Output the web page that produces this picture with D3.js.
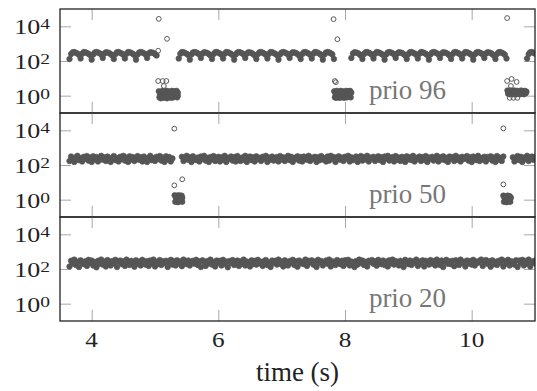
<!DOCTYPE html>
<html><head><meta charset="utf-8">
<script src="https://cdn.jsdelivr.net/npm/d3@7"></script>
<style>body{margin:0;background:#fff}</style>
</head><body>
<script>
// ---------- data ----------
const xDomain = [3.5, 11];
const yDomain = [0.1, 100000];
const xTicks = [4, 6, 8, 10];
const yTickExp = [0, 2, 4];
const panelLabels = ["prio 96", "prio 50", "prio 20"];
const xLabel = "time (s)";
const bandStart = 3.65, bandStep = 0.025;   // sampling grid of the dense band (s)

const band96 = [
130,250,320,330,300,270,230, 140,260,330,320,290,260,220, 120,240,310,330,310,280,240, 150,270,320,310,290,250,210,
130,250,320,330,300,270,230, 140,260,330,320,290,260,220, 120,240,310,330,310,280,240, 150,270,320,310,290,250,210,
null,null,null,null,null,null,null,null,null,null,null,null,null,
140,260,330,320,290,260,220, 120,240,310,330,310,280,240, 150,270,320,310,290,250,210, 130,250,320,330,300,270,230,
140,260,330,320,290,260,220, 120,240,310,330,310,280,240, 150,270,320,310,290,250,210, 130,250,320,330,300,270,230,
140,260,330,320,290,260,220, 120,240,310,330,310,280,240, 150,270,320,310,290,250,210, 130,250,320,330,300,270,230,
140,260,330,320,290,260,220, 120,240,310,330,310,280,240, 130,
null,null,null,null,null,null,null,null,null,null,
150,270,320,310,290,250,210, 130,250,320,330,300,270,230, 140,260,330,320,290,260,220, 120,240,310,330,310,280,240,
150,270,320,310,290,250,210, 130,250,320,330,300,270,230, 140,260,330,320,290,260,220, 120,240,310,330,310,280,240,
150,270,320,310,290,250,210, 130,250,320,330,300,270,230, 140,260,330,320,290,260,220, 120,240,310,330,310,280,240,
150,270,320,310,290,250,210, 130,250,320,330,300,270,230, 140,
null,null,null,null,null,null,null,null,null,null,null,null,
140,250,320,330,300,270,240
];
const band50 = [
170,310,220,150,280,340,190,250,160,300, 230,330,180,270,150,320,210,290,160,240,
340,200,280,170,310,230,150,260,330,190, 250,160,300,220,340,180,270,150,320,210,
290,170,240,330,200,280,160,310,230,150, 260,340,190,250,170,300,220,330,180,270,
150,320,210,290,160,240,
null,null,null,null,null,
300,170,250,340,200,280,150,320,230,190, 270,160,310,220,340,180,260,150,290,210,
330,170,240,300,160,280,200,340,150,260, 220,310,180,290,160,330,240,170,270,200,
340,150,250,310,190,280,160,320,220,260, 170,300,230,340,150,270,200,310,180,250,
290,160,330,210,280,170,240,340,190,300, 150,260,220,320,180,290,160,310,240,200,
340,170,270,230,300,150,280,190,330,210, 250,160,310,180,340,220,290,150,260,320,
200,270,170,300,230,340,160,280,190,250, 310,150,240,330,180,290,210,340,160,270,
220,300,170,260,320,190,280,150,310,230, 340,180,250,290,160,330,200,270,170,300,
240,150,320,210,280,190,340,160,260,230, 310,170,290,200,330,150,270,220,300,180,
250,340,160,280,210,320,190,260,150,310, 230,290,170,340,200,270,160,300,220,250,
330,180,280,150,310,240,190,340,170,260, 210,300,160,290,230,320,180,270,150,330,
200,260,170,310,
null,null,null,null,null,
280,160,240,330,190,300,150,270,220,340,170,250,310,200,290,180,320
];
const band20 = [
140,300,210,350,170,260,130,320,230,190, 280,150,340,220,310,160,250,125,300,200,
350,180,270,140,330,240,160,290,210,340, 130,260,310,190,280,150,350,220,170,300,
240,135,320,200,270,160,340,230,180,290, 150,310,210,350,140,260,190,330,170,280,
220,300,130,250,340,180,290,160,320,210, 270,145,350,230,190,310,160,260,300,200,
340,170,280,130,320,240,150,290,210,350, 180,260,140,310,230,300,160,340,195,270,
125,290,220,330,170,250,310,150,280,200, 350,160,270,230,140,320,190,300,180,340,
210,260,150,290,330,170,240,130,310,220, 300,180,350,200,270,140,320,250,160,290,
230,340,170,280,135,310,210,260,190,350, 150,300,240,320,180,270,130,340,220,290,
160,250,310,200,350,140,280,230,170,330, 260,190,300,150,320,210,340,160,270,240,
130,290,180,350,220,310,170,260,140,300, 250,330,200,280,155,340,230,190,310,170,
270,140,320,210,350,180,290,240,160,300, 220,130,340,260,190,310,170,280,230,350,
150,270,200,320,140,300,250,180,330,210, 290,160,350,230,170,310,130,260,340,200,
280,190,300,145,320,240,170,350,220,260, 140,310,210,290,180,340,160,270,230,300,
350,150,250,330,200,280,135,320,190,260, 170,300,230,350,140,290,210,340,160,280,
250,180,320,130,310,220,340,160,290,200, 350,140,270,230,310,180,300
];

// isolated points [time (s), value]
const outliers96 = [[5.05,390],[5.06,27000],[5.19,1900],[7.82,26000],[7.88,1800],[10.56,30000],
  [5.05,7],[5.12,7],[5.18,7],[5.14,3.6],[7.84,7],[7.855,6],
  [10.56,7],[10.63,9.2],[10.71,6.2],[10.62,3.6],[10.6,0.75],[10.66,0.75],[10.72,0.75]];
// dense low-value clusters [time (s), value]
const cluster96 = [
  [5.06,1.8],[5.07,0.8],[5.08,1.2],[5.09,0.7],[5.1,1.6],[5.11,1.0],[5.12,1.9],[5.13,0.75],[5.14,1.3],[5.15,1.7],
  [5.16,0.8],[5.17,1.1],[5.18,1.9],[5.19,0.7],[5.2,1.4],[5.21,1.0],[5.22,1.8],[5.23,0.8],[5.24,1.2],[5.25,1.6],
  [5.26,0.75],[5.27,1.9],[5.28,1.1],[5.29,0.8],[5.3,1.5],[5.31,1.8],[5.32,0.9],[5.33,1.3],[5.34,1.9],[5.35,0.8],[5.36,1.5],[5.36,1.0],
  [7.83,1.8],[7.84,0.8],[7.85,1.3],[7.86,0.75],[7.87,1.9],[7.88,1.1],[7.89,0.8],[7.9,1.6],[7.91,1.2],[7.92,0.75],
  [7.93,1.9],[7.94,1.0],[7.95,1.5],[7.96,0.8],[7.97,1.8],[7.98,1.2],[7.99,0.75],[8.0,1.6],[8.01,1.0],[8.02,1.9],
  [8.03,0.8],[8.04,1.4],[8.05,1.8],[8.06,0.9],[8.07,1.3],[8.08,1.9],[8.09,0.8],[8.1,1.5],
  [10.565,2.0],[10.575,1.3],[10.59,1.7],[10.6,1.2],[10.615,2.0],[10.63,1.4],[10.645,1.8],[10.66,1.2],[10.675,2.0],
  [10.69,1.5],[10.705,1.2],[10.72,1.9],[10.735,1.3],[10.75,1.7],[10.765,1.2],[10.78,2.0],[10.795,1.4],[10.81,1.8],
  [10.825,1.2],[10.84,1.9],[10.855,1.4],[10.865,1.7]];
const outliers50 = [[5.305,12500],[5.305,6.7],[5.43,15],[10.5,13000],[10.5,7.6]];
const cluster50 = [
  [5.31,1.8],[5.32,0.75],[5.33,1.3],[5.34,0.9],[5.35,1.7],[5.36,0.72],[5.37,1.2],[5.38,1.8],[5.39,0.8],
  [5.4,1.4],[5.41,1.0],[5.42,1.7],[5.43,0.75],[5.43,1.3],
  [10.5,1.7],[10.51,0.75],[10.52,1.2],[10.53,0.9],[10.54,1.6],[10.55,0.72],[10.56,1.3],[10.57,1.7],
  [10.58,0.8],[10.59,1.2],[10.6,1.6],[10.61,0.75],[10.62,1.3]];

const bands = [band96, band50, band20];
const clusters = [cluster96, cluster50, []];
const outliers = [outliers96, outliers50, []];

// ---------- layout ----------
const W = 537, H = 391;
const left = 60, right = 535, top0 = 9, ph = 104;
const serif = "Liberation Serif";

const svg = d3.select("body").append("svg").attr("width", W).attr("height", H);
const x = d3.scaleLinear().domain(xDomain).range([left, right]);

panelLabels.forEach((lab, k) => {
  const pt = top0 + k * ph, pb = pt + ph;
  const y = d3.scaleLog().domain(yDomain).range([pb, pt]);
  const g = svg.append("g");

  // inward ticks
  const tickStyle = sel => { sel.select(".domain").remove(); sel.selectAll("line").attr("stroke", "#a8a8a8").attr("stroke-width", 1); sel.selectAll("text").remove(); };
  const yt = yTickExp.map(e => Math.pow(10, e));
  g.append("g").attr("transform", `translate(0,${pt})`).call(d3.axisBottom(x).tickValues(xTicks).tickSize(11).tickFormat("")).call(tickStyle);
  g.append("g").attr("transform", `translate(0,${pb})`).call(d3.axisTop(x).tickValues(xTicks).tickSize(11).tickFormat("")).call(tickStyle);
  g.append("g").attr("transform", `translate(${left},0)`).call(d3.axisRight(y).tickValues(yt).tickSize(11).tickFormat("")).call(tickStyle);
  g.append("g").attr("transform", `translate(${right},0)`).call(d3.axisLeft(y).tickValues(yt).tickSize(11).tickFormat("")).call(tickStyle);

  // clip
  const cid = "clip" + k;
  svg.append("clipPath").attr("id", cid).append("rect").attr("x", left).attr("y", pt).attr("width", right - left).attr("height", ph);
  const dg = g.append("g").attr("clip-path", `url(#${cid})`);

  // dense points (many overlapping measurements -> appear solid)
  const dense = bands[k].map((v, i) => [bandStart + i * bandStep, v]).filter(d => d[1] != null).concat(clusters[k]);
  dg.append("g").selectAll("circle").data(dense).join("circle")
    .attr("cx", d => x(d[0])).attr("cy", d => y(d[1])).attr("r", 2.8)
    .attr("fill", "#555").attr("stroke", "#555").attr("stroke-width", 0.6);
  // isolated points
  dg.append("g").selectAll("circle").data(outliers[k]).join("circle")
    .attr("cx", d => x(d[0])).attr("cy", d => y(d[1])).attr("r", 2.4)
    .attr("fill", "none").attr("stroke", "#5a5a5a").attr("stroke-width", 1);

  // panel label
  g.append("text").attr("x", 407.5).attr("y", pb - 14).attr("text-anchor", "middle")
    .style("font-family", serif).attr("font-size", 27).attr("fill", "#777").text(lab);

  // y tick labels
  yTickExp.forEach(e => {
    const t = g.append("g").attr("transform", `translate(50,${y(Math.pow(10, e)) + 8}) scale(1.3,1)`)
      .append("text").attr("text-anchor", "end").style("font-family", serif).attr("fill", "#222");
    t.append("tspan").attr("font-size", 20).text("10");
    t.append("tspan").attr("font-size", 15).attr("dy", -5).text(String(e));
  });

  // frame
  svg.append("rect").attr("x", left).attr("y", pt).attr("width", right - left).attr("height", ph)
    .attr("fill", "none").attr("stroke", "#222").attr("stroke-width", 1.3);
});

// x tick labels
const bottom = top0 + 3 * ph;
xTicks.forEach(t => {
  svg.append("g").attr("transform", `translate(${x(t)},${bottom + 26}) scale(1.2,1)`)
    .append("text").attr("text-anchor", "middle").style("font-family", serif).attr("font-size", 21).attr("fill", "#222").text(String(t));
});
svg.append("text").attr("x", (left + right) / 2).attr("y", 381).attr("text-anchor", "middle")
  .style("font-family", serif).attr("font-size", 27).attr("fill", "#222").text(xLabel);
</script>
</body></html>
